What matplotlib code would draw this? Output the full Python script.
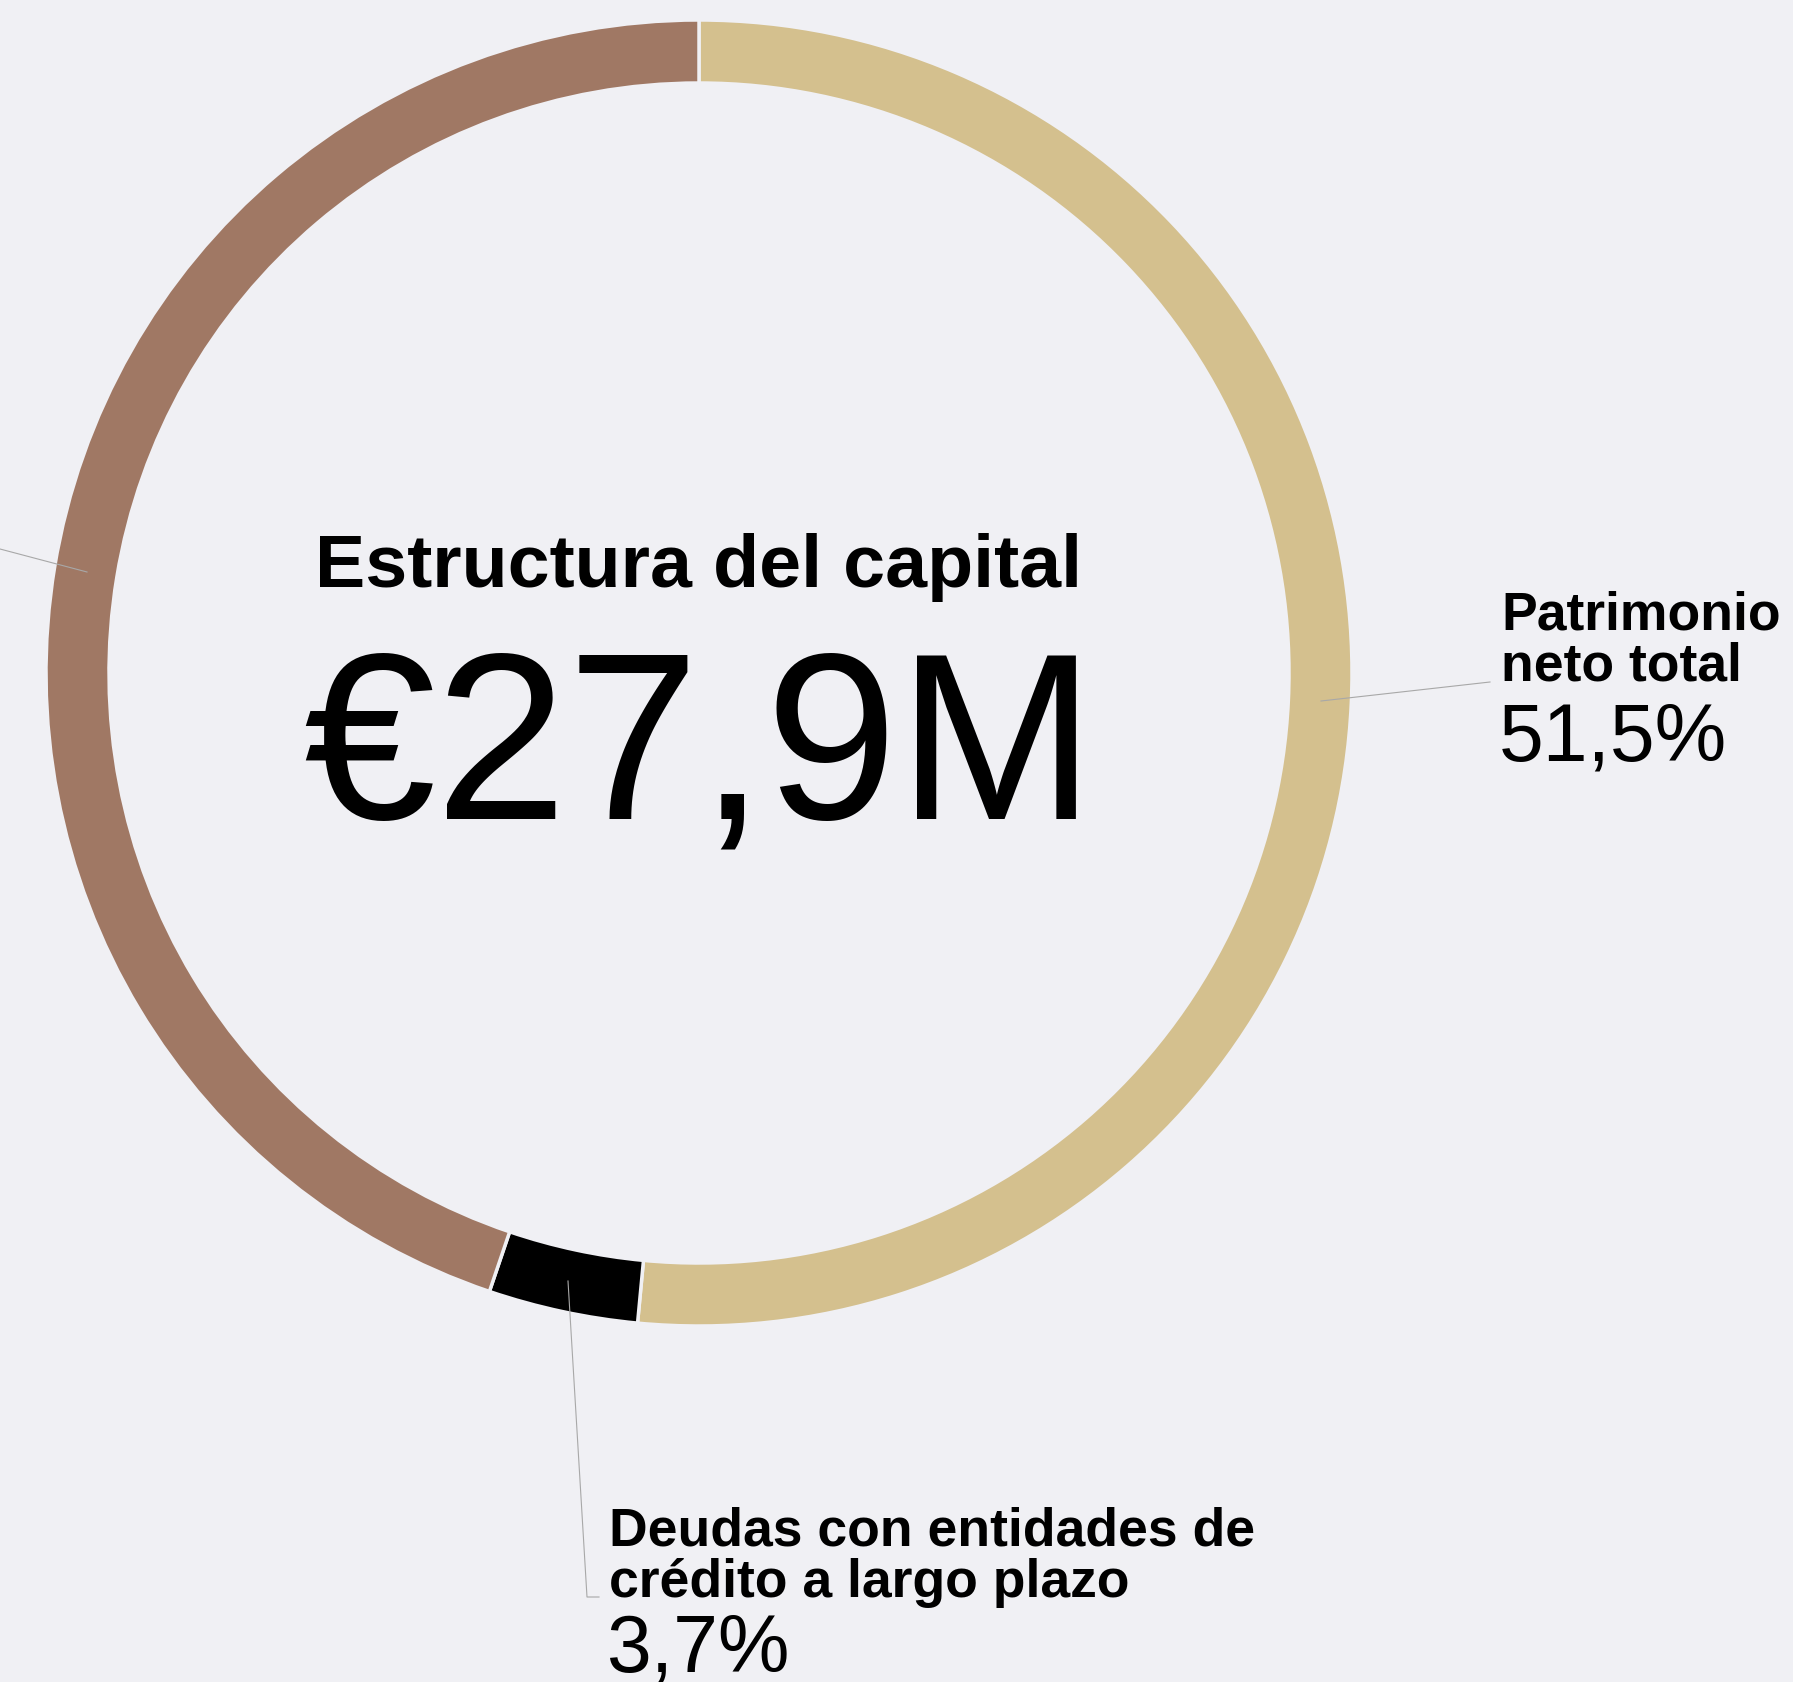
import matplotlib.pyplot as plt

# canvas in pixels
W, H = 1793, 1682
bg = '#f0f0f4'

# -- data
segments = ['Patrimonio neto total', 'Deudas con entidades de crédito a largo plazo', 'Otros pasivos']
shares = [51.5, 3.7, 44.8]
colors = ['#d4c08e', '#000000', '#a07864']
title = 'Estructura del capital'
total = '€27,9M'
right_label = ['Patrimonio', 'neto total']
right_value = '51,5%'
bottom_label = ['Deudas con entidades de', 'crédito a largo plazo']
bottom_value = '3,7%'

def y(v):
    # image row -> data y
    return H - v

fig = plt.figure(figsize=(W / 100, H / 100), dpi=100, facecolor=bg)
ax = fig.add_axes([0, 0, 1, 1])
ax.set_facecolor(bg)

ax.pie(shares, colors=colors, startangle=90, counterclock=False,
       radius=653, center=(699, y(673)), frame=True,
       wedgeprops=dict(width=63, edgecolor=bg, linewidth=2.5))

ax.set_xlim(0, W)
ax.set_ylim(0, H)
ax.set_aspect('equal')
ax.axis('off')

# centre text
ax.text(699, y(587), title, ha='center', va='baseline', fontsize=54.3,
        fontweight='bold', family='Liberation Sans', color='black')
ax.text(699, y(818), total, ha='center', va='baseline', fontsize=171,
        family='Liberation Sans', color='black')

# leader lines
lc = '#a8a8a8'
ax.plot([0, 87], [y(549), y(572)], color=lc, lw=0.8)
ax.plot([1321, 1490], [y(701), y(682)], color=lc, lw=0.8)
ax.plot([568, 587, 599], [y(1281), y(1597), y(1597)], color=lc, lw=0.8)

# right label
ax.text(1501, y(629), right_label[0], ha='left', va='baseline', fontsize=38.5,
        fontweight='bold', family='Liberation Sans')
ax.text(1501, y(680), right_label[1], ha='left', va='baseline', fontsize=38.5,
        fontweight='bold', family='Liberation Sans')
ax.text(1499, y(760), right_value, ha='left', va='baseline', fontsize=58,
        family='Liberation Sans')

# bottom label
ax.text(609, y(1546), bottom_label[0], ha='left', va='baseline', fontsize=38.5,
        fontweight='bold', family='Liberation Sans')
ax.text(609, y(1597), bottom_label[1], ha='left', va='baseline', fontsize=38.5,
        fontweight='bold', family='Liberation Sans')
ax.text(607, y(1672), bottom_value, ha='left', va='baseline', fontsize=58,
        family='Liberation Sans')

fig.savefig('out.png', dpi=100, facecolor=bg)
